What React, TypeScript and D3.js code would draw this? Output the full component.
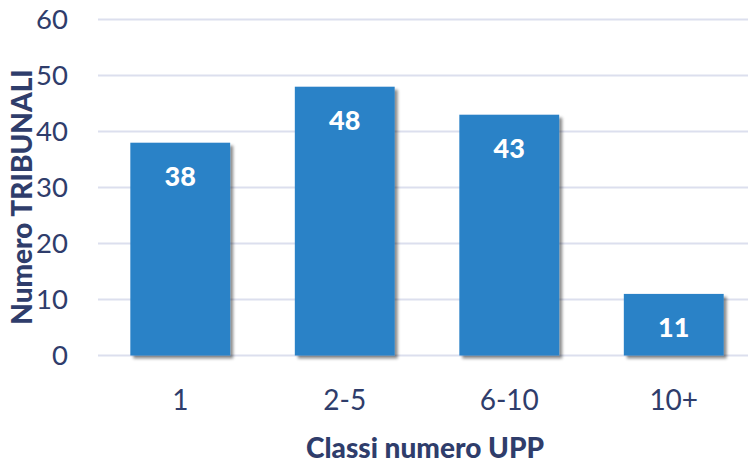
import React from 'react';
import * as d3 from 'd3';

// chart data
const categories = ['1', '2-5', '6-10', '10+'];
const tribunali = [38, 48, 43, 11];
const yTicks = [0, 10, 20, 30, 40, 50, 60];

const width = 748;
const height = 463;
const navy = '#2f3d6b';
const barBlue = '#2a82c7';
const font = "Lato, 'Open Sans', sans-serif";

const App = () => {
  const x = d3.scaleBand<string>()
    .domain(categories)
    .range([98, 756])
    .paddingInner(0.393)
    .paddingOuter(0.1965);

  const y = d3.scaleLinear()
    .domain([0, 60])
    .range([355.5, 19.5]);

  return (
    <svg width={width} height={height} style={{ position: 'absolute', left: 0, top: 0 }}>
      <defs>
        <filter id="shadow" x="-20%" y="-20%" width="140%" height="140%">
          <feDropShadow dx="3" dy="3" stdDeviation="1.6" floodColor="#000" floodOpacity="0.45" />
        </filter>
      </defs>
      <rect width={width} height={height} fill="#fff" />

      {/* gridlines */}
      {yTicks.map(t => (
        <line key={t} x1={98} x2={width} y1={y(t)} y2={y(t)} stroke="#dcdfee" strokeWidth={2} />
      ))}

      {/* y tick labels */}
      {yTicks.map(t => (
        <text key={t} x={68} y={y(t)} dy="0.36em" textAnchor="end"
          fontFamily={font} fontSize={27.5} fill={navy}>{t}</text>
      ))}

      {/* bars */}
      {categories.map((c, i) => (
        <rect key={c} x={x(c)} y={y(tribunali[i])} width={x.bandwidth()}
          height={y(0) - y(tribunali[i])} fill={barBlue} filter="url(#shadow)" />
      ))}

      {/* value labels */}
      {categories.map((c, i) => (
        <text key={c} x={(x(c) as number) + x.bandwidth() / 2} y={y(tribunali[i]) + 43}
          textAnchor="middle" fontFamily={font} fontSize={27} fontWeight={900} fill="#fff">
          {tribunali[i]}
        </text>
      ))}

      {/* x tick labels */}
      {categories.map(c => (
        <text key={c} x={(x(c) as number) + x.bandwidth() / 2} y={410}
          textAnchor="middle" fontFamily={font} fontSize={28} fill={navy}>{c}</text>
      ))}

      {/* axis titles */}
      <text x={425} y={458} textAnchor="middle" fontFamily={font} fontSize={28}
        fontWeight={900} fill={navy}>Classi numero UPP</text>
      <text transform="translate(32,197) rotate(-90)" textAnchor="middle" fontFamily={font}
        fontSize={28} fontWeight={900} fill={navy}>Numero TRIBUNALI</text>
    </svg>
  );
};

export default App;
